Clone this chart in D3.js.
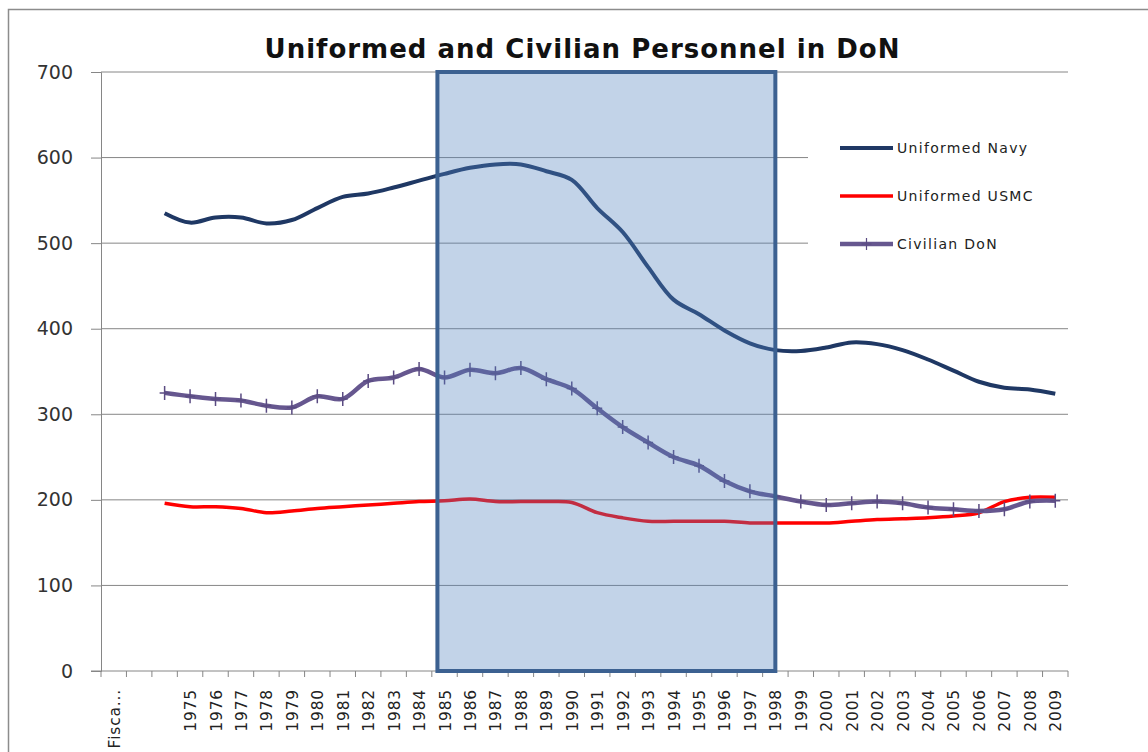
<!DOCTYPE html>
<html>
<head>
<meta charset="utf-8">
<script src="https://cdn.jsdelivr.net/npm/d3@7"></script>
<style>
  body { margin: 0; background: #fff; }
  text { font-family: "DejaVu Sans", "Open Sans", sans-serif; }
</style>
</head>
<body>
<div id="chart"></div>
<script>
// Category labels along the x axis (Excel category axis, first slots unlabeled)
const categories = ["Fisca...", "", "",
  "1975", "1976", "1977", "1978", "1979", "1980", "1981", "1982", "1983", "1984",
  "1985", "1986", "1987", "1988", "1989", "1990", "1991", "1992", "1993", "1994",
  "1995", "1996", "1997", "1998", "1999", "2000", "2001", "2002", "2003", "2004",
  "2005", "2006", "2007", "2008", "2009"];

// Personnel (thousands), one value per category, null where empty
const navy = [null, null, 535,
  524, 530, 530, 523, 527, 541, 554, 558, 565, 573,
  581, 588, 592, 592, 584, 574, 541, 513, 472, 434,
  417, 398, 383, 375, 374, 378, 384, 382, 375, 364,
  351, 338, 331, 329, 324];

const usmc = [null, null, 196,
  192, 192, 190, 185, 187, 190, 192, 194, 196, 198,
  199, 201, 198, 198, 198, 197, 185, 179, 175, 175,
  175, 175, 173, 173, 173, 173, 175, 177, 178, 179,
  181, 185, 198, 203, 203];

const civilian = [null, null, 325,
  321, 318, 316, 310, 308, 321, 318, 339, 343, 353,
  343, 352, 348, 354, 341, 330, 307, 285, 267, 250,
  240, 222, 210, 204, 198, 194, 196, 198, 196, 191,
  189, 187, 189, 198, 199];

const yTicks = [0, 100, 200, 300, 400, 500, 600, 700];

// Highlighted period (from 1985 to 1998)
const shadeFrom = "1985";
const shadeTo = "1998";

const seriesList = [
  {name: "Uniformed Navy", values: navy, color: "#1f3864", width: 4, marker: false},
  {name: "Uniformed USMC", values: usmc, color: "#ff0000", width: 3.5, marker: false},
  {name: "Civilian DoN", values: civilian, color: "#66578f", width: 4.5, marker: true}
];

const W = 1148, H = 752;
const margin = {top: 72, right: 80, bottom: 81, left: 101};
const width = W - margin.left - margin.right;
const height = H - margin.top - margin.bottom;

const svg = d3.select("#chart").append("svg")
    .attr("width", W)
    .attr("height", H);

// Chart area border
svg.append("rect")
    .attr("x", 8.5).attr("y", 9.5)
    .attr("width", W + 20).attr("height", H + 20)
    .attr("fill", "#fff")
    .attr("stroke", "#8c8c8c")
    .attr("stroke-width", 1.5);

const g = svg.append("g")
    .attr("transform", `translate(${margin.left},${margin.top})`);

const x = d3.scaleBand()
    .domain(d3.range(categories.length))
    .range([0, width])
    .padding(0);

const y = d3.scaleLinear()
    .domain([0, 700])
    .range([height, 0]);

const cx = i => x(i) + x.bandwidth() / 2;

// Gridlines
g.selectAll(".grid")
    .data(yTicks.filter(t => t > 0))
    .enter().append("line")
    .attr("class", "grid")
    .attr("x1", 0).attr("x2", width)
    .attr("y1", d => y(d)).attr("y2", d => y(d))
    .attr("stroke", "#868686")
    .attr("stroke-width", 1);

// Y axis
const yAxis = g.append("g")
    .call(d3.axisLeft(y).tickValues(yTicks).tickSize(10).tickPadding(18));
yAxis.select(".domain").attr("stroke", "#868686");
yAxis.selectAll(".tick line").attr("stroke", "#868686");
yAxis.selectAll(".tick text")
    .attr("font-size", 19)
    .attr("font-family", "DejaVu Sans, sans-serif")
    .attr("fill", "#333");

// X axis: ticks between categories
const xAxis = g.append("g")
    .attr("transform", `translate(0,${height})`);
xAxis.append("line")
    .attr("x1", -10).attr("x2", width)
    .attr("stroke", "#868686");
xAxis.selectAll(".xtick")
    .data(d3.range(categories.length + 1))
    .enter().append("line")
    .attr("x1", i => i * x.step()).attr("x2", i => i * x.step())
    .attr("y1", 0).attr("y2", 6)
    .attr("stroke", "#868686");
xAxis.selectAll(".xlabel")
    .data(categories)
    .enter().append("text")
    .attr("transform", (d, i) => `translate(${cx(i) + 6},18) rotate(-90)`)
    .attr("text-anchor", "end")
    .attr("font-size", 15.5)
    .attr("letter-spacing", 0.8)
    .attr("fill", "#222")
    .text(d => d);

// Lines
const line = d3.line()
    .defined(d => d.v !== null)
    .x(d => cx(d.i))
    .y(d => y(d.v))
    .curve(d3.curveCatmullRom.alpha(0.5));

seriesList.forEach(s => {
    const pts = s.values.map((v, i) => ({i, v}));
    g.append("path")
        .datum(pts)
        .attr("fill", "none")
        .attr("stroke", s.color)
        .attr("stroke-width", s.width)
        .attr("stroke-linejoin", "round")
        .attr("d", line);
    if (s.marker) {
        g.selectAll(".mk")
            .data(pts.filter(d => d.v !== null))
            .enter().append("path")
            .attr("transform", d => `translate(${cx(d.i)},${y(d.v)})`)
            .attr("d", "M-5,0H5M0,-7V7")
            .attr("stroke", "#5a4b82")
            .attr("stroke-width", 1.5);
    }
});

// Highlight rectangle (semi transparent, on top of the lines)
const i0 = categories.indexOf(shadeFrom);
const i1 = categories.indexOf(shadeTo);
g.append("rect")
    .attr("x", x(i0) + x.step() * 0.22)
    .attr("y", y(700))
    .attr("width", cx(i1) - x(i0) - x.step() * 0.22)
    .attr("height", y(0) - y(700))
    .attr("fill", "#4f81bd")
    .attr("fill-opacity", 0.35)
    .attr("stroke", "#3c6191")
    .attr("stroke-width", 4);

// Legend
const legend = svg.append("g")
    .attr("transform", "translate(808,112)");
legend.append("rect")
    .attr("width", 300).attr("height", 165)
    .attr("fill", "#fff");
seriesList.forEach((s, k) => {
    const ly = 36 + k * 48;
    legend.append("line")
        .attr("x1", 32).attr("x2", 85)
        .attr("y1", ly).attr("y2", ly)
        .attr("stroke", s.color)
        .attr("stroke-width", s.width);
    if (s.marker) {
        legend.append("path")
            .attr("transform", `translate(58.5,${ly})`)
            .attr("d", "M-5,0H5M0,-6V6")
            .attr("stroke", "#5a4b82")
            .attr("stroke-width", 1.2);
    }
    legend.append("text")
        .attr("x", 89)
        .attr("y", ly + 5)
        .attr("font-size", 14)
        .attr("letter-spacing", 1.3)
        .attr("fill", "#222")
        .text(s.name);
});

// Title
svg.append("text")
    .attr("x", 582)
    .attr("y", 58)
    .attr("text-anchor", "middle")
    .attr("font-family", "Open Sans, sans-serif")
    .attr("font-size", 26)
    .attr("font-weight", "bold")
    .attr("fill", "#111")
    .attr("textLength", 635)
    .attr("lengthAdjust", "spacing")
    .text("Uniformed and Civilian Personnel in DoN");
</script>
</body>
</html>
